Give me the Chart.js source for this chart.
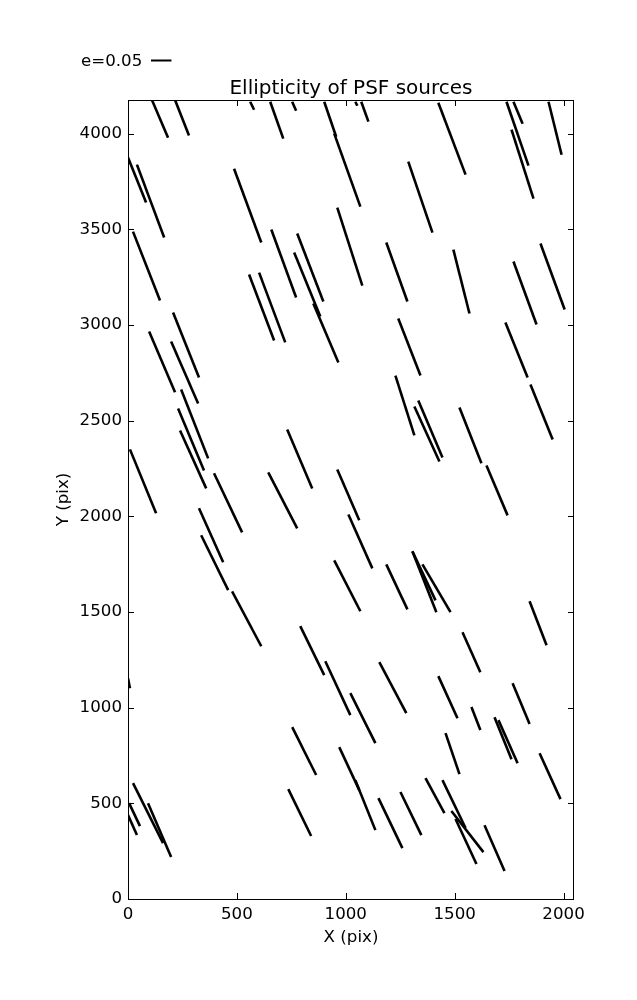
<!DOCTYPE html>
<html>
<head>
<meta charset="utf-8">
<script src="https://cdn.jsdelivr.net/npm/chart.js@4/dist/chart.umd.min.js"></script>
<style>
html,body{margin:0;padding:0;background:#fff;}
#wrap{width:637px;height:1000px;position:relative;}
</style>
</head>
<body>
<div id="wrap"><canvas id="c" width="637" height="1000"></canvas></div>
<script>
// ---- data (pixel units of the detector) ----
const titleText = "Ellipticity of PSF sources";
const xLabel = "X (pix)";
const yLabel = "Y (pix)";
const keyLabel = "e=0.05";
const keyLengthX = 94;          // length of e=0.05 key, in X data units
const xRange = [0, 2048];
const yRange = [0, 4176];
const xTicks = [0, 500, 1000, 1500, 2000];
const yTicks = [0, 500, 1000, 1500, 2000, 2500, 3000, 3500, 4000];

// start / end points of each ellipticity whisker
const segX0 = [110,216,561,653,754,901,1044,1071,1425,1738,1770,1761,1931,0,41,487,947,1287,23,658,777,763,851,961,1186,1494,1770,1894,556,602,
  207,97,198,244,230,239,9,395,644,731,961,1241,1733,1228,1333,1315,1522,1848,1646,
  326,336,478,947,791,906,0,1012,1186,1306,1306,1352,1844,1536,1154,1425,1766,1021,1577,
  754,736,23,92,5,0,970,1044,1150,1251,1366,1444,1485,1504,1637,1683,1701,1890,1458];
const segY0 = [4176,4176,4167,4167,4167,4167,4167,4167,4162,4167,4167,4021,4167,3875,3838,3817,4000,3854,3488,3499,3478,3379,3112,3614,3431,3394,3332,3426,3264,3274,
  3065,2966,2914,2663,2564,2449,2350,2225,2230,2454,2245,3034,3013,2736,2606,2574,2569,2689,2266,
  2042,1901,1608,1770,1426,1243,1154,2010,1749,1817,1817,1749,1556,1394,1238,1165,1128,1076,1003,
  898,574,606,501,501,439,794,621,527,559,632,621,460,418,386,950,935,762,867];
const segX1 = [184,280,579,713,772,956,1053,1104,1550,1839,1812,1862,1991,83,166,612,1067,1398,147,772,897,883,966,1076,1283,1568,1876,2005,671,722,
  326,216,322,368,349,359,129,524,777,846,1062,1343,1835,1315,1444,1430,1623,1950,1743,
  437,460,612,1067,901,1021,9,1122,1283,1416,1412,1481,1922,1618,1278,1513,1844,1136,1618,
  864,841,161,198,55,41,1062,1136,1260,1347,1453,1550,1632,1600,1729,1761,1789,1986,1522];
const segY1 = [3979,3990,4125,3974,4120,3984,4146,4063,3786,3833,4052,3661,3890,3640,3457,3431,3619,3483,3128,3144,3123,3044,2804,3206,3123,3060,3003,3081,2919,2909,
  2726,2648,2590,2303,2240,2146,2016,1916,1937,2146,1979,2736,2726,2423,2308,2287,2277,2402,2005,
  1760,1614,1321,1504,1170,961,1102,1728,1514,1499,1561,1499,1326,1185,971,945,914,815,883,
  648,329,292,219,381,334,569,360,266,334,449,371,245,183,146,731,710,522,653];

const FONT = "'DejaVu Sans', sans-serif";
const FS = 16.67;

const datasets = segX0.map((x0, i) => ({
  data: [{x: x0, y: segY0[i]}, {x: segX1[i], y: segY1[i]}],
  showLine: true,
  borderColor: '#000',
  borderWidth: 2.6,
  borderCapStyle: 'butt',
  pointRadius: 0,
  pointHoverRadius: 0,
  fill: false,
  clip: 0
}));

const decor = {
  id: 'decor',
  afterDraw(chart) {
    const {ctx, chartArea: a, scales} = chart;
    const xs = scales.x, ys = scales.y;
    ctx.save();
    // frame
    ctx.strokeStyle = '#000';
    ctx.lineWidth = 1;
    ctx.strokeRect(Math.round(a.left) + 0.5, Math.round(a.top) + 0.5,
                   Math.round(a.right - a.left) - 1, Math.round(a.bottom - a.top));
    // inward ticks on all four sides
    const tl = 6;
    ctx.beginPath();
    xs.ticks.forEach(t => {
      const px = Math.round(xs.getPixelForValue(t.value)) + 0.5;
      ctx.moveTo(px, a.bottom); ctx.lineTo(px, a.bottom - tl);
      ctx.moveTo(px, a.top); ctx.lineTo(px, a.top + tl);
    });
    ys.ticks.forEach(t => {
      const py = Math.round(ys.getPixelForValue(t.value)) + 0.5;
      ctx.moveTo(a.left, py); ctx.lineTo(a.left + tl, py);
      ctx.moveTo(a.right, py); ctx.lineTo(a.right - tl, py);
    });
    ctx.stroke();
    // title
    ctx.fillStyle = '#000';
    ctx.font = `20px ${FONT}`;
    ctx.textAlign = 'center';
    ctx.textBaseline = 'alphabetic';
    ctx.fillText(titleText, (a.left + a.right) / 2, a.top - 6.5);
    // quiver key
    ctx.font = `${FS}px ${FONT}`;
    ctx.textAlign = 'left';
    ctx.fillText(keyLabel, 81, 66);
    const kl = xs.getPixelForValue(keyLengthX) - xs.getPixelForValue(0);
    ctx.beginPath();
    ctx.lineWidth = 2;
    ctx.moveTo(151, 60.5); ctx.lineTo(151 + kl, 60.5);
    ctx.stroke();
    ctx.restore();
  }
};

new Chart(document.getElementById('c'), {
  type: 'scatter',
  data: {datasets},
  options: {
    responsive: false,
    animation: false,
    events: [],
    layout: {padding: {left: 50, top: 100, right: 63, bottom: 40}},
    plugins: {legend: {display: false}, tooltip: {enabled: false}, title: {display: false}},
    scales: {
      x: {
        type: 'linear', min: xRange[0], max: xRange[1],
        grid: {display: false, drawTicks: false},
        border: {display: false},
        afterBuildTicks(s) { s.ticks = xTicks.map(v => ({value: v})); },
        ticks: {maxRotation: 0, autoSkip: false, color: '#000', padding: 6,
                font: {family: FONT, size: FS}, callback: v => String(v)},
        title: {display: true, text: xLabel, color: '#000', font: {family: FONT, size: FS},
                padding: {top: 0, bottom: 12}},
        afterFit(s) { s.height = 61; }
      },
      y: {
        type: 'linear', min: yRange[0], max: yRange[1],
        grid: {display: false, drawTicks: false},
        border: {display: false},
        afterBuildTicks(s) { s.ticks = yTicks.map(v => ({value: v})); },
        ticks: {autoSkip: false, color: '#000', padding: 6,
                font: {family: FONT, size: FS}, callback: v => String(v)},
        title: {display: true, text: yLabel, color: '#000', font: {family: FONT, size: FS},
                padding: {top: 4, bottom: 0}},
        afterFit(s) { s.width = 78; }
      }
    }
  },
  plugins: [decor]
});
</script>
</body>
</html>
